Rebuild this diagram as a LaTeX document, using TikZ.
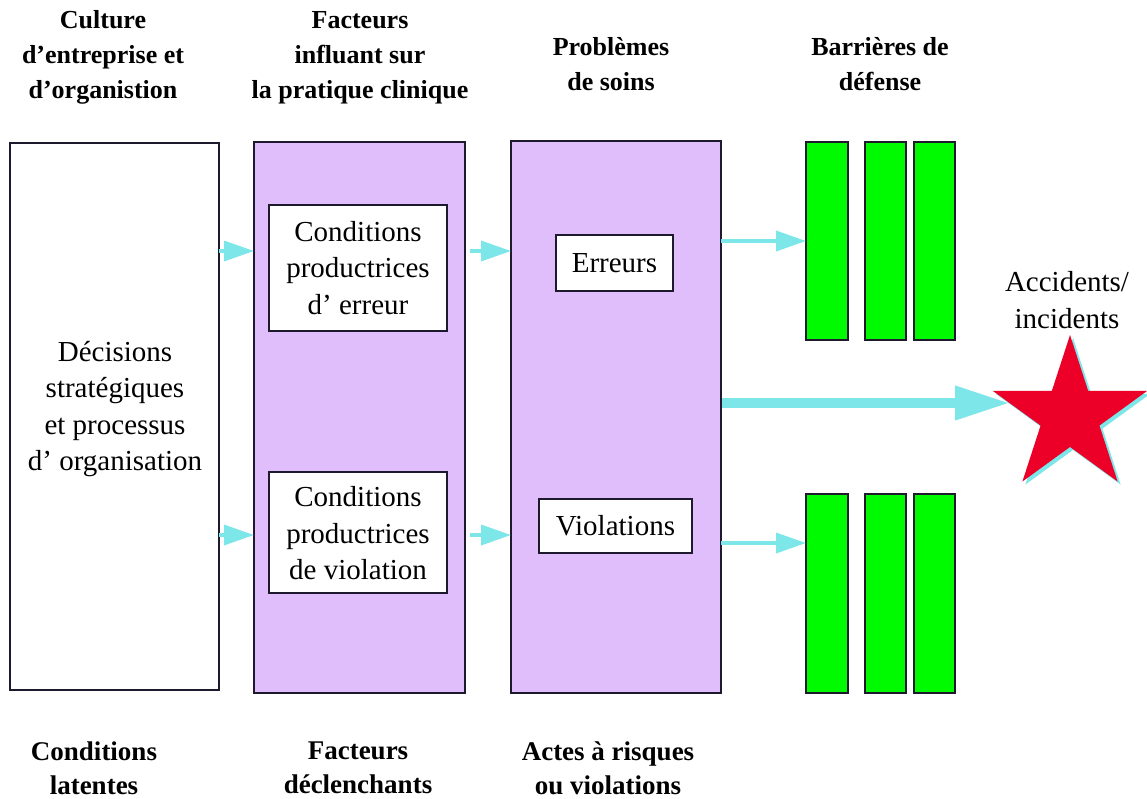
\documentclass[tikz,border=0pt]{standalone}
\usepackage{fontspec}
\setmainfont{Liberation Serif}
\usetikzlibrary{shapes.geometric,arrows.meta}
\definecolor{lil}{RGB}{224,190,252}
\definecolor{grn}{RGB}{0,250,0}
\definecolor{cy}{RGB}{125,230,232}
\definecolor{strk}{RGB}{30,25,45}
\definecolor{rd}{RGB}{236,0,40}
\tikzset{
  hdr/.style={font=\bfseries\fontsize{26}{35}\selectfont, align=center, inner sep=0},
  foot/.style={font=\bfseries\fontsize{27}{34}\selectfont, align=center, inner sep=0},
  txt/.style={font=\fontsize{29}{36.5}\selectfont, align=center, inner sep=0},
  panel/.style={draw=strk, line width=1.6pt, inner sep=0, outer sep=0, anchor=north west},
  thinarrow/.style={-{Triangle[length=30pt,width=20pt]}, cy, line width=3.5pt},
  fatarrow/.style={-{Triangle[length=55pt,width=32pt]}, cy, line width=10pt},
  starshape/.style={star, star points=5, star point ratio=2.618, minimum size=162pt, inner sep=0, draw=none},
}
\begin{document}
\begin{tikzpicture}[x=1pt,y=-1pt]
\useasboundingbox[fill=white] (0,0) rectangle (1147,798);
% headers
\node[hdr] (h1) at (103,57.5) {Culture\\d’entreprise et\\d’organistion};
\node[hdr] (h2) at (360,57.5) {Facteurs\\influant sur\\la pratique clinique};
\node[hdr] (h3) at (611,64) {Problèmes\\de soins};
\node[hdr] (h4) at (880,64) {Barrières de\\défense};
% footers
\node[foot] (f1) at (94,768) {Conditions\\latentes};
\node[foot] (f2) at (358,768) {Facteurs\\déclenchants};
\node[foot] (f3) at (608,768) {Actes à risques\\ou violations};
% helper rows
\path (0,251) coordinate (r1) (0,535) coordinate (r2) (0,241) coordinate (r3)
      (0,543) coordinate (r4) (0,403) coordinate (r0);
% big arrow (under the star)
\node[panel, fill=lil, minimum width=210pt, minimum height=552pt] (p2) at (511,141) {};
\draw[fatarrow] (p2.east |- r0) -- (1010,403) coordinate (tipa);
% panels
\node[panel, fill=white, minimum width=209pt, minimum height=547pt] (lb) at (10,143) {};
\node[panel, fill=lil, minimum width=211pt, minimum height=551pt] (p1) at (254,142) {};
\node[panel, fill=lil, minimum width=210pt, minimum height=552pt] (p2b) at (511,141) {};
\node[panel, fill=white, minimum width=178pt, minimum height=126pt] (c1) at (269,205) {};
\node[panel, fill=white, minimum width=178pt, minimum height=121pt] (c2) at (269,472) {};
\node[panel, fill=white, minimum width=117pt, minimum height=56pt] (er) at (556,235) {};
\node[panel, fill=white, minimum width=153pt, minimum height=54pt] (vi) at (539,499) {};
% texts
\node[txt] (tl) at (115,409) {Décisions\\stratégiques\\et processus\\d’ organisation};
\node[txt] (t1) at (c1.center) {Conditions\\productrices\\d’ erreur};
\node[txt] (t2) at ([yshift=-1pt]c2.center) {Conditions\\productrices\\de violation};
\node[txt] (te) at (er.center) {Erreurs};
\node[txt] (tv) at (vi.center) {Violations};
% barriers
\node[panel, fill=grn, minimum width=42pt, minimum height=198pt] (b1) at (806,142) {};
\node[panel, fill=grn, minimum width=41pt, minimum height=198pt] (b2) at (865,142) {};
\node[panel, fill=grn, minimum width=41pt, minimum height=198pt] (b3) at (914,142) {};
\node[panel, fill=grn, minimum width=42pt, minimum height=199pt] (b4) at (806,494) {};
\node[panel, fill=grn, minimum width=41pt, minimum height=199pt] (b5) at (865,494) {};
\node[panel, fill=grn, minimum width=41pt, minimum height=199pt] (b6) at (914,494) {};
% arrows
\draw[thinarrow] (lb.east |- r1) -- (p1.west |- r1);
\draw[thinarrow] (lb.east |- r2) -- (p1.west |- r2);
\draw[thinarrow] ([xshift=5pt]p1.east |- r1) -- (p2b.west |- r1);
\draw[thinarrow] ([xshift=5pt]p1.east |- r2) -- (p2b.west |- r2);
\draw[thinarrow] (p2b.east |- r3) -- (b1.west |- r3);
\draw[thinarrow] (p2b.east |- r4) -- (b4.west |- r4);
% star
\node[starshape, fill=cy] (sh) at (1073,419) {};
\node[starshape, fill=rd] (star) at (1070,416) {};
\node[txt] (acc) at (1067,300) {Accidents/\\incidents};
\end{tikzpicture}
\end{document}
